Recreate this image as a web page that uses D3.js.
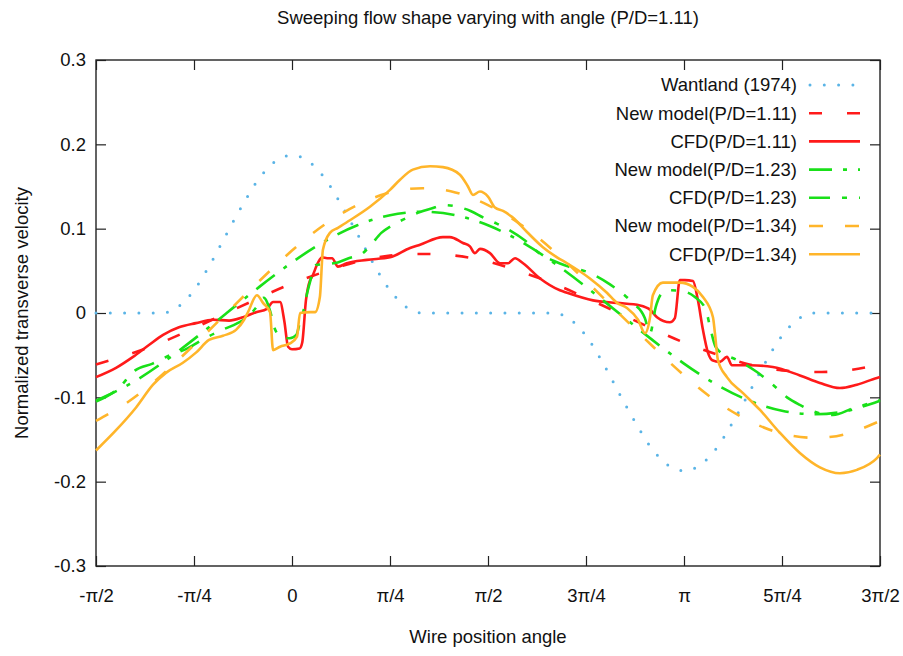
<!DOCTYPE html>
<html>
<head>
<meta charset="utf-8">
<script src="https://cdn.jsdelivr.net/npm/d3@7"></script>
<style>
  html, body { margin: 0; padding: 0; background: #fff; }
  svg text { font-family: "Liberation Sans", Arial, Helvetica, sans-serif; fill: #111; }
</style>
</head>
<body>
<svg id="chart" width="903" height="656"></svg>
<script>
// Axis ticks (angles in degrees, labelled as fractions of pi)
const angleTicks = [-90, -45, 0, 45, 90, 135, 180, 225, 270];
const angleTickLabels = ["-π/2", "-π/4", "0", "π/4", "π/2", "3π/4", "π", "5π/4", "3π/2"];
const velocityTicks = [-0.3, -0.2, -0.1, 0, 0.1, 0.2, 0.3];

// Wantland (1974) correlation
const wantlandAngles = [-90, -82.5, -75, -67.5, -60, -52.5, -45, -37.5, -30, -22.5, -15, -7.5, 0,
  7.5, 15, 22.5, 30, 37.5, 45, 52.5, 60, 67.5, 75, 82.5, 90, 97.5, 105, 112.5, 120,
  127.5, 135, 142.5, 150, 157.5, 165, 172.5, 180, 187.5, 195, 202.5, 210, 217.5, 225, 232.5, 240,
  247.5, 255, 262.5, 270];
const wantlandValues = [0, 0, 0, 0, 0, 0.007, 0.027, 0.058, 0.094, 0.129, 0.160, 0.180, 0.187,
  0.180, 0.160, 0.129, 0.094, 0.058, 0.027, 0.007, 0, 0, 0, 0, 0, 0, 0, 0, 0,
  -0.007, -0.027, -0.058, -0.094, -0.129, -0.160, -0.180, -0.187, -0.180, -0.160, -0.129, -0.094, -0.058, -0.027, -0.007, 0,
  0, 0, 0, 0];

// New model curves
const modelAngles = [-90, -75, -60, -45, -30, -15, 0, 15, 30, 45, 60, 75, 90, 105, 120, 135, 150, 165,
  180, 195, 210, 225, 240, 255, 270];
const model111 = [-0.061, -0.049, -0.035, -0.018, 0, 0.018, 0.035, 0.049, 0.061, 0.068, 0.070, 0.068,
  0.061, 0.049, 0.035, 0.018, 0, -0.018, -0.035, -0.049, -0.061, -0.068, -0.070, -0.068, -0.061];
const model123 = [-0.104, -0.085, -0.060, -0.031, 0, 0.031, 0.060, 0.085, 0.104, 0.116, 0.120, 0.116,
  0.104, 0.085, 0.060, 0.031, 0, -0.031, -0.060, -0.085, -0.104, -0.116, -0.120, -0.116, -0.104];
const model134 = [-0.128, -0.105, -0.074, -0.038, 0, 0.038, 0.074, 0.105, 0.128, 0.143, 0.148, 0.143,
  0.128, 0.105, 0.074, 0.038, 0, -0.038, -0.074, -0.105, -0.128, -0.143, -0.148, -0.143, -0.128];

// CFD results: [angle (deg), velocity]
const cfd111 = [[-90, -0.076], [-80.8, -0.065], [-73, -0.052], [-65.7, -0.038], [-59.2, -0.026],
  [-51.9, -0.017], [-44.1, -0.012], [-36.3, -0.008], [-28.9, -0.009], [-22.5, -0.005], [-16.5, 0.001],
  [-11.5, 0.005], [-8.7, 0.013], [-5.5, 0.013], [-3.5, -0.010], [-1.8, -0.040], [0, -0.043],
  [3.5, -0.042], [4.7, -0.035], [6.4, 0.015], [8.3, 0.039], [9.2, 0.043], [12, 0.060], [13.8, 0.066],
  [16.1, 0.065], [18.4, 0.065], [21.1, 0.055], [25.2, 0.059], [34.4, 0.063], [45, 0.066], [54.2, 0.077],
  [58.8, 0.081], [69.3, 0.090], [72.5, 0.090], [78.5, 0.083], [81.7, 0.079], [84, 0.071], [86.3, 0.076],
  [90.9, 0.071], [95.5, 0.059], [99.2, 0.059], [102.4, 0.065], [106.1, 0.059], [113.9, 0.041],
  [123, 0.027], [126.3, 0.024], [138.2, 0.015], [149.2, 0.012], [159.8, 0.009], [164.4, 0.004],
  [167.6, -0.005], [173.5, -0.011], [175.8, -0.006], [178.1, 0.039], [180.4, 0.039], [184.1, 0.038],
  [186.4, 0.015], [188.7, -0.020], [191, -0.047], [193, -0.056], [196.5, -0.058], [199.7, -0.052],
  [202, -0.062], [210.3, -0.062], [220.8, -0.064], [233.2, -0.074], [242.4, -0.083], [251.6, -0.089],
  [259.4, -0.085], [268.6, -0.077], [270, -0.076]];

const cfd123 = [[-90, -0.105], [-80, -0.090], [-72, -0.068], [-64, -0.060], [-56, -0.050],
  [-48, -0.042], [-40, -0.030], [-32, -0.020], [-25, -0.012], [-20, -0.004], [-16, 0.008], [-13, 0.018],
  [-10, 0.002], [-8, -0.018], [-5, -0.028], [-1, -0.030], [2, -0.026], [3.7, -0.010], [5, 0.000],
  [7, 0.024], [8.5, 0.039], [11, 0.057], [16, 0.058], [21, 0.060], [26, 0.065], [32, 0.070], [36, 0.080],
  [41, 0.095], [46, 0.104], [52, 0.112], [58, 0.119], [64, 0.124], [70, 0.128], [76, 0.126], [82, 0.121],
  [88, 0.113], [94, 0.106], [100, 0.098], [107, 0.086], [114, 0.070], [120, 0.062], [127, 0.055],
  [136.3, 0.048], [146, 0.034], [156, 0.013], [162, -0.006], [164.4, -0.024], [167, 0.007], [170, 0.024],
  [173, 0.027], [179, 0.026], [185, 0.019], [190, 0.004], [192, -0.017], [194.5, -0.040], [199, -0.050],
  [202, -0.053], [213.5, -0.070], [220.8, -0.085], [227.3, -0.100], [233.2, -0.109], [242.4, -0.119],
  [248.4, -0.121], [257.6, -0.113], [265.4, -0.107], [270, -0.103]];

const cfd134 = [[-90, -0.163], [-80.8, -0.139], [-71.6, -0.112], [-63.8, -0.085], [-57.9, -0.071],
  [-50.1, -0.059], [-44.1, -0.047], [-38.1, -0.032], [-31.7, -0.027], [-25.7, -0.020], [-22, -0.008],
  [-20.2, 0.001], [-16.1, 0.021], [-13.3, 0.012], [-10.1, 0.001], [-8.7, -0.044], [-5.5, -0.040],
  [-0.9, -0.036], [2.3, -0.028], [3.7, 0.000], [8.3, 0.001], [10.6, 0.001], [12.8, 0.019], [14.2, 0.075],
  [17.4, 0.095], [21.1, 0.101], [26.6, 0.110], [35.8, 0.126], [45, 0.146], [49.6, 0.158], [55.5, 0.170],
  [63.4, 0.174], [69.3, 0.173], [77.1, 0.164], [80.8, 0.150], [83.1, 0.140], [86.3, 0.144], [90, 0.138],
  [93.2, 0.125], [96.9, 0.121], [101, 0.114], [107.9, 0.096], [115.2, 0.078], [121.7, 0.066],
  [126.3, 0.059], [136.8, 0.041], [144.6, 0.024], [149.2, 0.012], [153.8, 0.006], [158.9, -0.008],
  [162.1, -0.024], [164.4, -0.005], [165.7, 0.021], [170.3, 0.036], [178.1, 0.036], [184.1, 0.031],
  [188.7, 0.019], [193.3, -0.005], [194.2, -0.024], [195.6, -0.056], [199.7, -0.076], [207.1, -0.095],
  [214.9, -0.115], [224, -0.142], [233.2, -0.166], [242.4, -0.183], [251.6, -0.190], [259.4, -0.186],
  [268.6, -0.172], [270, -0.168]];

const seriesNames = ["Wantland (1974)", "New model(P/D=1.11)", "CFD(P/D=1.11)", "New model(P/D=1.23)",
  "CFD(P/D=1.23)", "New model(P/D=1.34)", "CFD(P/D=1.34)"];

// ---- drawing ----
const svg = d3.select("#chart");
const plotLeft = 96, plotRight = 880, plotTop = 60, plotBottom = 566;
const fontSize = 18.5;

const x = d3.scaleLinear().domain([-90, 270]).range([plotLeft, plotRight]);
const y = d3.scaleLinear().domain([-0.3, 0.3]).range([plotBottom, plotTop]);

const zip = (xs, ys) => xs.map((a, i) => [a, ys[i]]);

const series = [
  { name: seriesNames[0], data: zip(wantlandAngles, wantlandValues), color: "#5ab4e6", dash: "0 14.3", width: 3, cap: "round", curve: d3.curveMonotoneX },
  { name: seriesNames[1], data: zip(modelAngles, model111), color: "#ff1a1a", dash: "13 25", width: 2.6, cap: "butt", curve: d3.curveNatural },
  { name: seriesNames[2], data: cfd111, color: "#ff1a1a", dash: null, width: 2.6, cap: "butt", curve: d3.curveMonotoneX },
  { name: seriesNames[3], data: zip(modelAngles, model123), color: "#19e019", dash: "23 11 4 11", width: 2.6, cap: "butt", curve: d3.curveNatural },
  { name: seriesNames[4], data: cfd123, color: "#19e019", dash: "21 12 5 12", width: 2.6, cap: "butt", curve: d3.curveMonotoneX },
  { name: seriesNames[5], data: zip(modelAngles, model134), color: "#ffb52a", dash: "14 22", width: 2.6, cap: "butt", curve: d3.curveNatural },
  { name: seriesNames[6], data: cfd134, color: "#ffb52a", dash: null, width: 2.6, cap: "butt", curve: d3.curveMonotoneX }
];

// title and axis titles
svg.append("text")
  .attr("x", (plotLeft + plotRight) / 2).attr("y", 24)
  .attr("text-anchor", "middle").attr("font-size", fontSize)
  .text("Sweeping flow shape varying with angle (P/D=1.11)");

svg.append("text")
  .attr("x", (plotLeft + plotRight) / 2).attr("y", 643)
  .attr("text-anchor", "middle").attr("font-size", fontSize)
  .text("Wire position angle");

svg.append("text")
  .attr("transform", `translate(28,${y(0)}) rotate(-90)`)
  .attr("text-anchor", "middle").attr("font-size", fontSize)
  .text("Normalized transverse velocity");

// axes: ticks point inward and are mirrored on the opposite sides
const tickLen = 10;
const fmtY = v => String(+v.toFixed(1));
const styleAxis = g => {
  g.select(".domain").remove();
  g.selectAll(".tick line").attr("stroke", "#222").attr("stroke-width", 1.2);
  g.selectAll(".tick text").attr("font-size", fontSize).attr("font-family", null).attr("fill", "#111");
};

svg.append("g").attr("transform", `translate(0,${plotBottom})`)
  .call(d3.axisBottom(x).tickValues(angleTicks).tickFormat((d, i) => angleTickLabels[i])
    .tickSizeInner(-tickLen).tickSizeOuter(0).tickPadding(23))
  .call(styleAxis);
svg.append("g").attr("transform", `translate(0,${plotTop})`)
  .call(d3.axisTop(x).tickValues(angleTicks).tickFormat("").tickSizeInner(-tickLen).tickSizeOuter(0))
  .call(styleAxis);
svg.append("g").attr("transform", `translate(${plotLeft},0)`)
  .call(d3.axisLeft(y).tickValues(velocityTicks).tickFormat(fmtY)
    .tickSizeInner(-tickLen).tickSizeOuter(0).tickPadding(10))
  .call(styleAxis);
svg.append("g").attr("transform", `translate(${plotRight},0)`)
  .call(d3.axisRight(y).tickValues(velocityTicks).tickFormat("").tickSizeInner(-tickLen).tickSizeOuter(0))
  .call(styleAxis);

// plot frame
svg.append("rect")
  .attr("x", plotLeft).attr("y", plotTop)
  .attr("width", plotRight - plotLeft).attr("height", plotBottom - plotTop)
  .attr("fill", "none").attr("stroke", "#222").attr("stroke-width", 1.4);

// curves
const plot = svg.append("g");
series.forEach(s => {
  const line = d3.line().x(d => x(d[0])).y(d => y(d[1])).curve(s.curve);
  plot.append("path")
    .attr("d", line(s.data))
    .attr("fill", "none")
    .attr("stroke", s.color)
    .attr("stroke-width", s.width)
    .attr("stroke-linecap", s.cap)
    .attr("stroke-linejoin", "round")
    .attr("stroke-dasharray", s.dash);
});

// legend
const legend = svg.append("g");
const rowY0 = 85, rowStep = 28.2, textRight = 797, sampleX0 = 809, sampleX1 = 860;
series.forEach((s, i) => {
  const ry = rowY0 + i * rowStep;
  legend.append("text")
    .attr("x", textRight).attr("y", ry)
    .attr("dy", "0.35em")
    .attr("text-anchor", "end").attr("font-size", fontSize)
    .text(s.name);
  legend.append("line")
    .attr("x1", s.cap === "round" ? sampleX0 + 1 : sampleX0).attr("x2", sampleX1)
    .attr("y1", ry).attr("y2", ry)
    .attr("stroke", s.color)
    .attr("stroke-width", s.width)
    .attr("stroke-linecap", s.cap)
    .attr("stroke-dasharray", s.dash);
});
</script>
</body>
</html>
